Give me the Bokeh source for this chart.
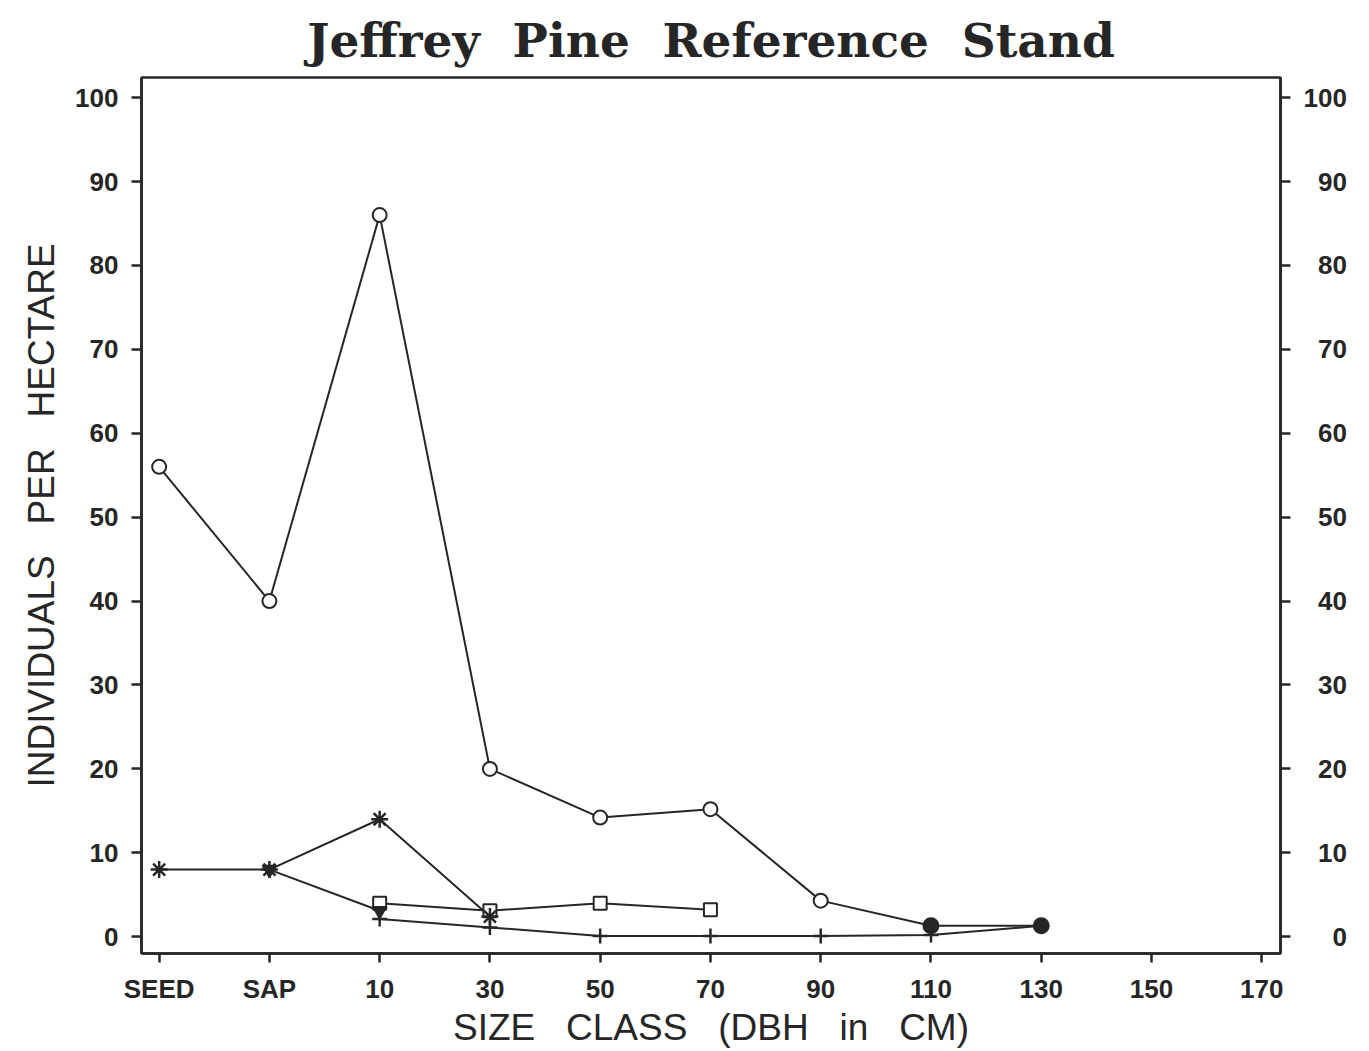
from bokeh.plotting import figure
from bokeh.models import Range1d, LinearAxis, FixedTicker
from bokeh.embed import file_html
from bokeh.resources import INLINE

# ---- data ----
size_classes = ["SEED", "SAP", "10", "30", "50", "70", "90", "110", "130", "150", "170"]
y_ticks = [0, 10, 20, 30, 40, 50, 60, 70, 80, 90, 100]

open_circle_vals = [56, 40, 86, 20, 14.2, 15.2, 4.3, 1.3, None, None, None]
filled_circle_vals = [None, None, None, None, None, None, None, 1.3, 1.3, None, None]
asterisk_vals = [8, 8, 14, 2.4, None, None, None, None, None, None, None]
triangle_vals = [None, 8, 3.1, None, None, None, None, None, None, None, None]
square_vals = [None, None, 4.0, 3.1, 4.0, 3.2, None, None, None, None, None]
plus_vals = [None, None, 2.1, 1.1, 0.1, 0.1, 0.1, 0.2, 1.3, None, None]

INK = "#262626"
TICK_FONT = "Liberation Sans"
LABEL_FONT = "Liberation Sans"
SP2 = "\u00a0\u00a0"
SP3 = "\u00a0\u00a0\u00a0"


def pts(vals):
    xs = [i for i, v in enumerate(vals) if v is not None]
    ys = [v for v in vals if v is not None]
    return xs, ys


p = figure(
    output_backend="svg", toolbar_location=None,
    frame_width=1139, frame_height=876,
    min_border_left=141, min_border_right=81, min_border_top=77, min_border_bottom=97,
    x_range=Range1d(-0.16, 10.17), y_range=Range1d(-2.0, 102.4),
    title=SP2.join(["Jeffrey", "Pine", "Reference", "Stand"]),
)
p.background_fill_color = "white"
p.border_fill_color = "white"
p.grid.visible = False
p.outline_line_color = INK
p.outline_line_width = 2.5
p.outline_line_alpha = 1.0

p.title.align = "center"
p.title.text_font = "DejaVu Serif"
p.title.text_font_style = "bold"
p.title.text_font_size = "47px"
p.title.text_color = INK
p.title.standoff = 19

# x axis
xa = p.xaxis[0]
xa.ticker = FixedTicker(ticks=list(range(len(size_classes))))
xa.major_label_overrides = {i: s for i, s in enumerate(size_classes)}
xa.axis_label = SP3.join(["SIZE", "CLASS", "(DBH", "in", "CM)"])

# y axis left
ya = p.yaxis[0]
ya.ticker = FixedTicker(ticks=y_ticks)
ya.axis_label = SP3.join(["INDIVIDUALS", "PER", "HECTARE"])

# right axis
ra = LinearAxis(ticker=FixedTicker(ticks=y_ticks))
ra.major_label_overrides = {t: ("\u2007" * (3 - len(str(t)))) + str(t) for t in y_ticks}
p.add_layout(ra, "right")

for ax in [xa, ya, ra]:
    ax.axis_line_color = INK
    ax.axis_line_width = 2.5
    ax.major_tick_line_color = INK
    ax.major_tick_line_width = 2.5
    ax.major_tick_in = 0
    ax.major_tick_out = 10
    ax.minor_tick_line_color = None
    ax.major_label_text_font = TICK_FONT
    ax.major_label_text_font_style = "bold"
    ax.major_label_text_font_size = "26px"
    ax.major_label_text_color = INK
    ax.major_label_standoff = 13
    ax.axis_label_text_font = LABEL_FONT
    ax.axis_label_text_font_style = "normal"
    ax.axis_label_text_font_size = "37px"
    ax.axis_label_text_color = INK
    ax.axis_label_standoff = 10

xa.major_tick_out = 9
xa.major_label_standoff = 11
xa.axis_label_standoff = 0

# series
LW = 2
for vals in [open_circle_vals, filled_circle_vals, asterisk_vals, triangle_vals, square_vals, plus_vals]:
    x, y = pts(vals)
    p.line(x, y, line_color=INK, line_width=LW)

x, y = pts(open_circle_vals)
p.scatter(x, y, marker="circle", size=14, line_color=INK, line_width=2, fill_color="white")
x, y = pts(filled_circle_vals)
p.scatter(x, y, marker="circle", size=15, line_color=INK, line_width=2, fill_color=INK)
x, y = pts(square_vals)
p.scatter(x, y, marker="square", size=13, line_color=INK, line_width=2, fill_color="white")
x, y = pts(triangle_vals)
p.scatter(x, y, marker="inverted_triangle", size=14, line_color=INK, line_width=1.5, fill_color=INK)
x, y = pts(asterisk_vals)
p.scatter(x, y, marker="asterisk", size=17, line_color=INK, line_width=2.5)
x, y = pts(plus_vals)
p.scatter(x, y, marker="cross", size=15, line_color=INK, line_width=2.5)

open("out.html", "w").write(file_html(p, INLINE))
